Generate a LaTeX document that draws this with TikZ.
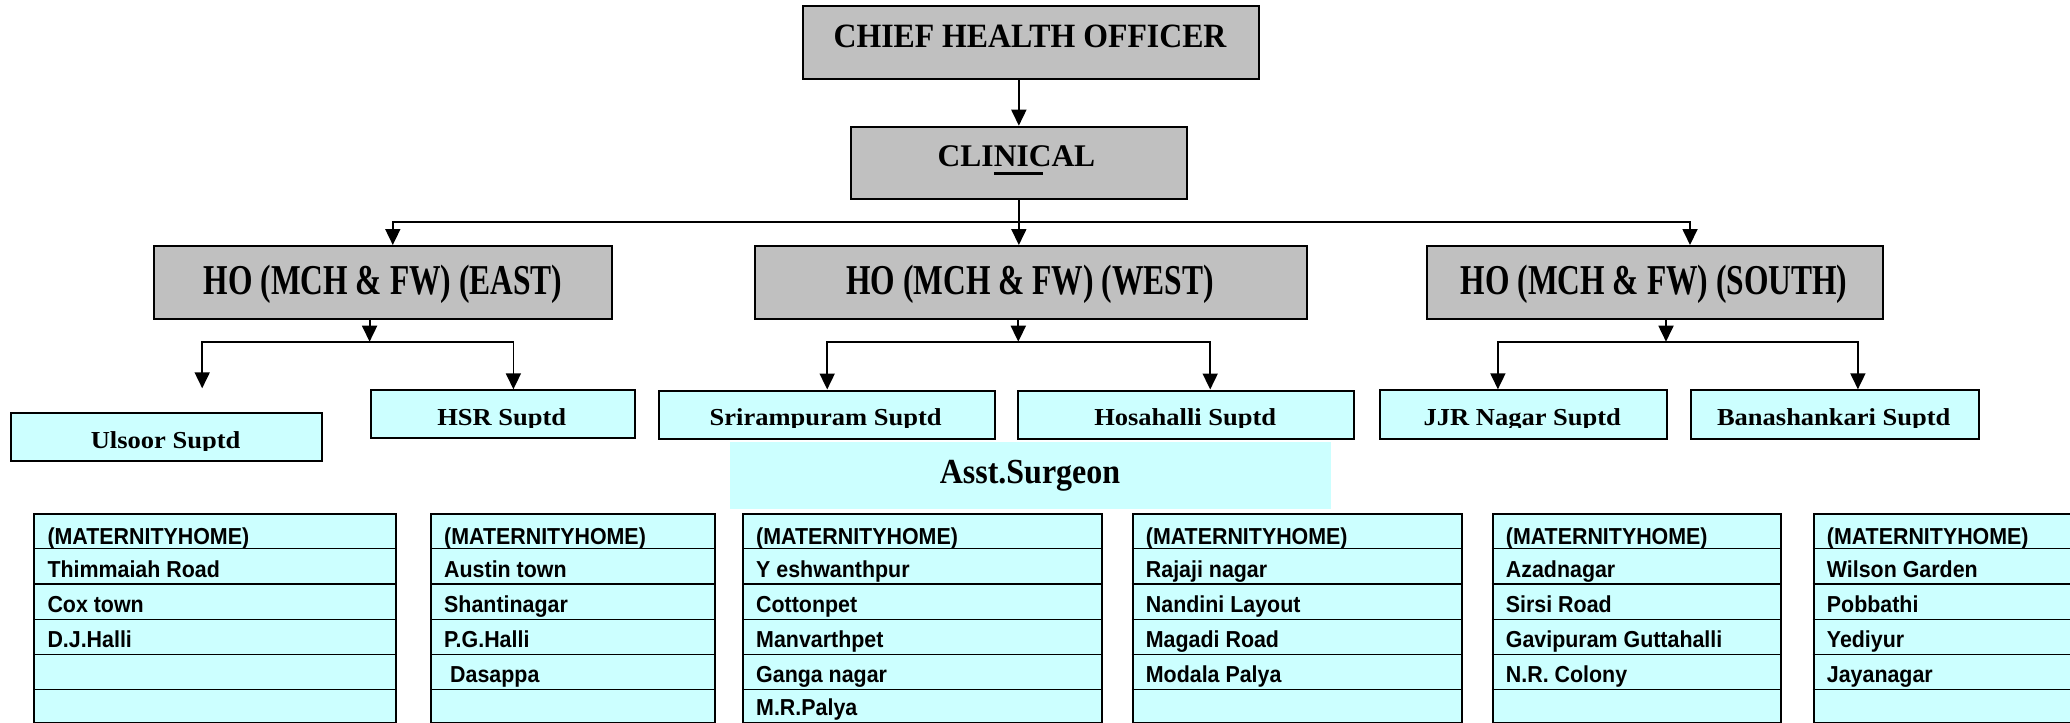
\documentclass[tikz,border=0pt]{standalone}
\usepackage{fontspec}
\setmainfont{Liberation Serif}
\newfontfamily\arialfont{Liberation Sans}
\usetikzlibrary{arrows.meta}
\definecolor{boxgray}{HTML}{C0C0C0}
\definecolor{boxcyan}{HTML}{CCFFFF}
\tikzset{
  graybox/.style={draw=black, fill=boxgray, line width=2pt, inner sep=0pt, anchor=north west},
  cyanbox/.style={draw=black, fill=boxcyan, line width=2pt, inner sep=0pt, anchor=north west},
  conn/.style={line width=1.8pt, -{Triangle[length=16pt,width=15pt]}},
  tline/.style={line width=1.6pt},
  hotext/.style={font=\fontsize{31.5}{36}\selectfont\bfseries, inner sep=0pt, anchor=base},
  suptext/.style={font=\fontsize{26.5}{30}\selectfont\bfseries, inner sep=0pt, anchor=base},
  celltext/.style={font=\arialfont\fontsize{21.4}{25}\selectfont\bfseries, inner sep=0pt, anchor=base west},
}
% Suptd box: name, x1, y1, x2, y2, baseline, text
\newcommand\suptdbox[7]{%
  \node[cyanbox, minimum width={(#4-#2)*1pt}, minimum height={(#5-#3)*1pt}] (#1) at (#2,#3) {};
  \begin{scope}
    \clip (#2,#3) rectangle (#4,#6+2);
    \node[suptext] (#1-t) at ({(#2+#4)/2},#6) {\scalebox{1}[0.92]{#7}};
  \end{scope}}
% maternity table: name, left, right, rows 2..6
\newcommand\mhtable[8]{%
  \node[cyanbox, minimum width={(#3-#2)*1pt}, minimum height=209pt] (#1) at (#2,512.7) {};
  \foreach \yy in {548.3,584,619.3,654.3,689.3} \draw[tline] (#2,\yy) -- (#3,\yy);
  \node[celltext] (#1-1) at (#2+14,544.5) {\scalebox{1}[1.08]{(MATERNITYHOME)}};
  \node[celltext] (#1-2) at (#2+14,577) {\scalebox{1}[1.08]{#4}};
  \node[celltext] (#1-3) at (#2+14,612) {\scalebox{1}[1.08]{#5}};
  \node[celltext] (#1-4) at (#2+14,647.5) {\scalebox{1}[1.08]{#6}};
  \node[celltext] (#1-5) at (#2+14,682.5) {\scalebox{1}[1.08]{#7}};
  \node[celltext] (#1-6) at (#2+14,715) {\scalebox{1}[1.08]{#8}};}
\begin{document}
\begin{tikzpicture}[x=1pt,y=-1pt]
\path[fill=white,use as bounding box] (0,0) rectangle (2070,723);

% top level
\node[graybox, minimum width=456.6pt, minimum height=73pt] (cho) at (801.7,5) {};
\node[hotext, font=\fontsize{31.8}{36}\selectfont\bfseries] (chot) at (1030,47.7) {\scalebox{1}[1.07]{CHIEF HEALTH OFFICER}};
\node[graybox, minimum width=336.3pt, minimum height=72pt] (clin) at (849.7,125.7) {};
\node[hotext] (clint) at (1016.5,166.7) {CLI\rlap{\rule[-7.8pt]{49pt}{2.4pt}}NICAL};

% HO boxes
\node[graybox, minimum width=457.7pt, minimum height=72.7pt] (east) at (153.3,245) {};
\node[hotext] (eastt) at (383,294) {\scalebox{1}[1.35]{HO (MCH \& FW) (EAST)}};
\node[graybox, minimum width=552.6pt, minimum height=72.7pt] (west) at (753.6,245) {};
\node[hotext] (westt) at (1030,294) {\scalebox{1}[1.35]{HO (MCH \& FW) (WEST)}};
\node[graybox, minimum width=456pt, minimum height=72.7pt] (south) at (1425.8,245) {};
\node[hotext] (southt) at (1654,294) {\scalebox{1}[1.35]{HO (MCH \& FW) (SOUTH)}};

% top connectors
\draw[conn] (cho.south -| clin.north) -- (clin.north);
\coordinate (tb) at (clin.south |- 0,222);
\coordinate (tbl) at (392.8,222);
\coordinate (tbr) at (1690,222);
\draw[conn] (clin.south) -- (clin.south |- west.north);
\draw[conn] (tb) -- (tbl) -- (tbl |- east.north);
\draw[conn] (tb) -- (tbr) -- (tbr |- south.north);

% Suptd boxes
\suptdbox{uls}{9.8}{411.7}{321.4}{460}{448}{Ulsoor Suptd}
\suptdbox{hsr}{369.6}{389.3}{633.9}{437.3}{425}{HSR Suptd}
\suptdbox{sri}{657.6}{389.5}{993.7}{437.7}{425}{Srirampuram Suptd}
\suptdbox{hos}{1017.4}{389.5}{1353}{437.7}{425}{Hosahalli Suptd}
\suptdbox{jjr}{1378.5}{389.3}{1666}{438.3}{425}{JJR Nagar Suptd}
\suptdbox{ban}{1689.8}{389.3}{1977.7}{438.3}{425}{Banashankari Suptd}

% east branch
\coordinate (eb) at (369.6,341.7);
\coordinate (ebl) at (202.2,341.7);
\coordinate (ebr) at (513.4,341.7);
\coordinate (ulsa) at (202.2,388.3);
\draw[conn] (east.south -| eb) -- (eb);
\draw[conn] (eb) -- (ebl) -- (ulsa);
\draw[conn] (eb) -- (ebr) -- (ebr |- hsr.north);
% west branch
\coordinate (wb) at (1018.3,341.7);
\coordinate (wbl) at (827.2,341.7);
\coordinate (wbr) at (1210.2,341.7);
\draw[conn] (west.south -| wb) -- (wb);
\draw[conn] (wb) -- (wbl) -- (wbl |- sri.north);
\draw[conn] (wb) -- (wbr) -- (wbr |- hos.north);
% south branch
\coordinate (sb) at (1666,341.7);
\coordinate (sbl) at (1497.9,341.7);
\coordinate (sbr) at (1857.9,341.7);
\draw[conn] (south.south -| sb) -- (sb);
\draw[conn] (sb) -- (sbl) -- (sbl |- jjr.north);
\draw[conn] (sb) -- (sbr) -- (sbr |- ban.north);

% Asst. Surgeon
\node[fill=boxcyan, inner sep=0pt, anchor=north west, minimum width=601.5pt, minimum height=66.6pt] (asst) at (729.5,441.7) {};
\node[hotext, font=\fontsize{32}{36}\selectfont\bfseries] (asstt) at (1030,483.3) {\scalebox{1}[1.1]{Asst.Surgeon}};

% maternity homes
\mhtable{t1}{33.3}{395}{Thimmaiah Road}{Cox town}{D.J.Halli}{}{}
\mhtable{t2}{430}{714}{Austin town}{Shantinagar}{P.G.Halli}{\hspace{6pt}Dasappa}{}
\mhtable{t3}{742}{1100.7}{Y eshwanthpur}{Cottonpet}{Manvarthpet}{Ganga nagar}{M.R.Palya}
\mhtable{t4}{1131.7}{1460.7}{Rajaji nagar}{Nandini Layout}{Magadi Road}{Modala Palya}{}
\mhtable{t5}{1491.7}{1780}{Azadnagar}{Sirsi Road}{Gavipuram Guttahalli}{N.R. Colony}{}
\mhtable{t6}{1812.7}{2090}{Wilson Garden}{Pobbathi}{Yediyur}{Jayanagar}{}
\end{tikzpicture}
\end{document}
